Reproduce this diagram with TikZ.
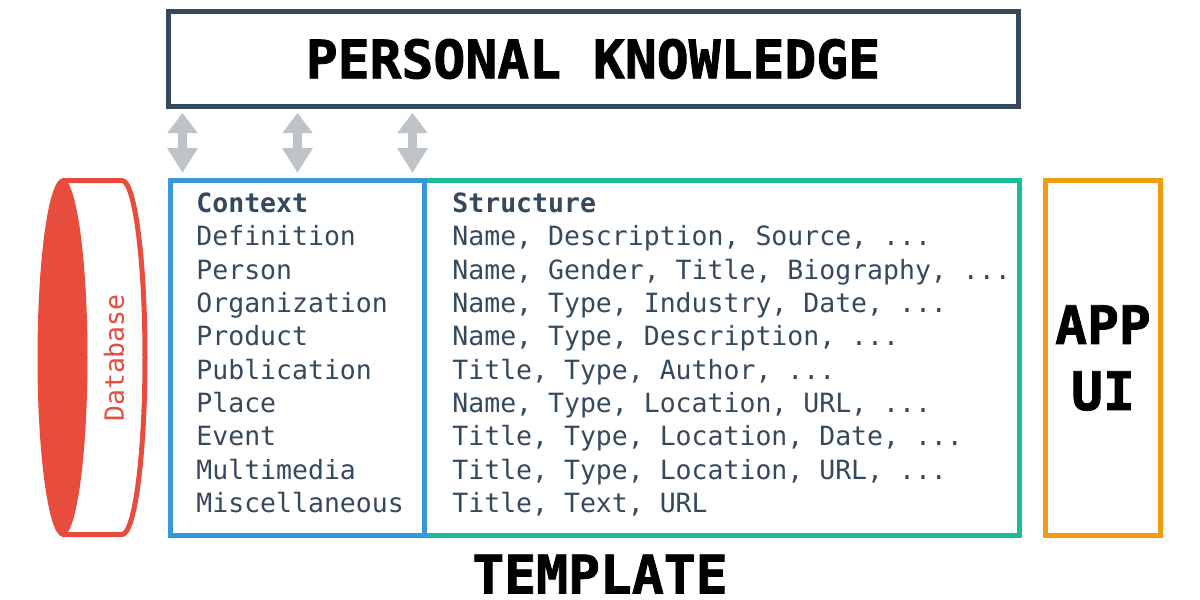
\documentclass[tikz,border=0pt]{standalone}
\usepackage{fontspec}
\setmainfont{DejaVu Sans Mono}
\newfontfamily\heavyfont[FakeBold=1.6]{DejaVu Sans Mono Bold}
\usetikzlibrary{arrows.meta,positioning,calc,shapes.geometric}
\definecolor{slate}{RGB}{52,73,94}
\definecolor{sky}{RGB}{52,152,219}
\definecolor{teal2}{RGB}{26,188,156}
\definecolor{orange2}{RGB}{243,156,18}
\definecolor{tomato}{RGB}{231,76,60}
\definecolor{mist}{RGB}{189,195,199}
\tikzset{
  x=0.5pt,y=-0.5pt,
  frame/.style={draw=#1,line width=2.5pt,inner sep=0pt},
  big/.style={font=\fontsize{26.5}{33}\heavyfont,text=black,inner sep=0pt},
  row/.style={font=\fontsize{13.25}{13.25}\selectfont,text=slate,anchor=base west,inner sep=0pt},
  headrow/.style={row,font=\fontsize{13.25}{13.25}\selectfont\bfseries},
  twoway/.style={{Triangle[length=10pt,width=14.5pt]}-{Triangle[length=12.5pt,width=14.5pt]},draw=mist,fill=mist,line width=4.5pt},
}
\begin{document}
\begin{tikzpicture}
  \useasboundingbox (0,0) rectangle (1200,600);
  % top box
  \draw[frame=slate] (168,11.5) rectangle (1018,106);
  \node[big] (knowledge) at (593,59) {PERSONAL KNOWLEDGE};
  % arrows
  \foreach \x/\n in {182.5/a,297.5/b,412.5/c}{
    \coordinate (top\n) at (\x,113);
    \coordinate (bot\n) at (\x,173);
    \draw[twoway] (top\n) -- (bot\n);
  }
  % database
  \draw[tomato,line width=2.5pt] (62,180.5) -- (122,180.5) arc (-90:90:23 and 177) -- (62,534.5);
  \fill[tomato] (62.5,357.5) ellipse (25 and 179);
  \node[font=\fontsize{13.25}{13.25}\selectfont,text=tomato,rotate=90,inner sep=0pt] (db) at (114,358) {Database};
  % boxes
  \draw[frame=teal2] (424.5,180.7) rectangle (1019.7,535.5);
  \draw[frame=sky] (170,180.7) rectangle (424.5,535.5);
  \draw[frame=orange2] (1045,180.7) rectangle (1160,535.5);
  \node[big,align=center] (app) at (1103,358) {APP\\UI};
  \node[big] (template) at (600,574) {TEMPLATE};
  % rows
  \node[headrow] (ctx) at (196,212) {Context};
  \node[headrow] (str) at (452,212) {Structure};
  \foreach \y/\c/\s in {
    245/Definition/{Name, Description, Source, ...},
    279/Person/{Name, Gender, Title, Biography, ...},
    312/Organization/{Name, Type, Industry, Date, ...},
    345/Product/{Name, Type, Description, ...},
    379/Publication/{Title, Type, Author, ...},
    412/Place/{Name, Type, Location, URL, ...},
    445/Event/{Title, Type, Location, Date, ...},
    479/Multimedia/{Title, Type, Location, URL, ...},
    512/Miscellaneous/{Title, Text, URL}}{
    \node[row] at (196,\y) {\c};
    \node[row] at (452,\y) {\s};
  }
\end{tikzpicture}
\end{document}
